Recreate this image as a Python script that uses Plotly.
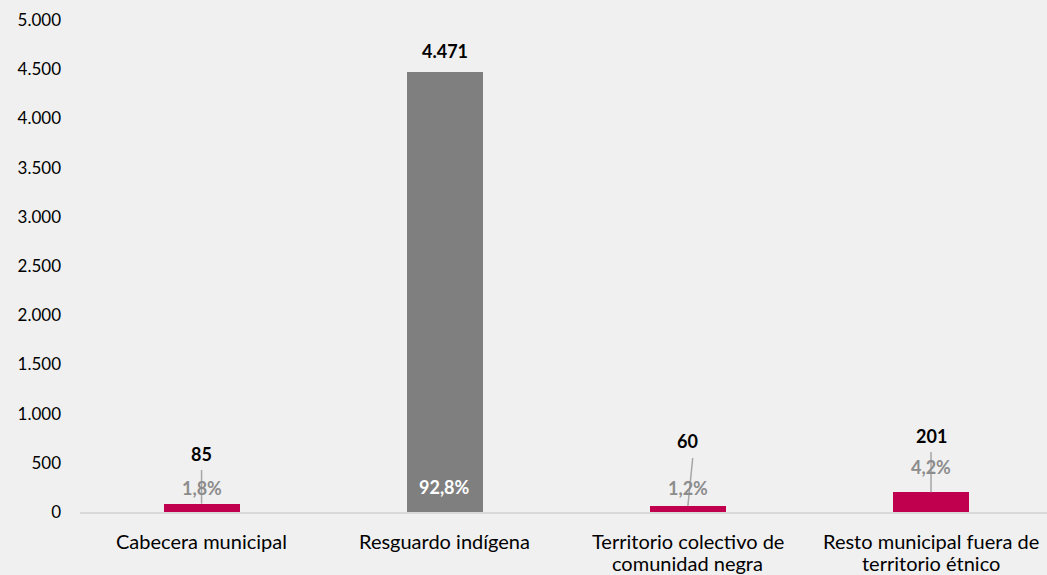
import plotly.graph_objects as go

categories = [
    "Cabecera municipal",
    "Resguardo indígena",
    "Territorio colectivo de<br>comunidad negra",
    "Resto municipal fuera de<br>territorio étnico",
]
values = [85, 4471, 60, 201]
shares = ["1,8%", "92,8%", "1,2%", "4,2%"]
bar_colors = ["#C0004F", "#7F7F7F", "#C0004F", "#C0004F"]
y_ticks = [0, 500, 1000, 1500, 2000, 2500, 3000, 3500, 4000, 4500, 5000]

# Manually placed label layout (value-label lift, share-label height, leader top)
value_lift = [505, 215, 660, 570]
share_y = [244, None, 244, 457]
leader_top = [427, None, 549, 610]
leader_dx = [0, 0, 0.02, 0]

FONT = "Lato, Carlito, sans-serif"

fig = go.Figure()
fig.add_trace(go.Bar(
    x=list(range(len(categories))),
    y=values,
    width=0.313,
    marker=dict(color=bar_colors, line=dict(width=0)),
    hoverinfo="skip",
))

annotations = []
shapes = []
for i, v in enumerate(values):
    annotations.append(dict(
        x=i, y=v + value_lift[i], text=f"<b>{v:,}</b>".replace(",", "."),
        showarrow=False, font=dict(size=18, color="#000000"),
        xanchor="center", yanchor="middle",
    ))
    if share_y[i] is None:
        annotations.append(dict(
            x=i, y=0, yshift=25, text=f"<b>{shares[i]}</b>", showarrow=False,
            font=dict(size=18, color="#FFFFFF"), xanchor="center", yanchor="middle",
        ))
    else:
        shapes.append(dict(
            type="line", xref="x", yref="y",
            x0=i, y0=v, x1=i + leader_dx[i], y1=leader_top[i],
            line=dict(color="#A6A6A6", width=1.5),
        ))
        annotations.append(dict(
            x=i, y=share_y[i], text=f"<b>{shares[i]}</b>", showarrow=False,
            font=dict(size=18, color="#8C8C8C"), xanchor="center", yanchor="middle",
        ))

# Category labels, one annotation per line for tighter line spacing
for i, cat in enumerate(categories):
    for k, line in enumerate(cat.split("<br>")):
        annotations.append(dict(
            x=i, y=0, xref="x", yref="y", yshift=-29 - 22 * k,
            text=line, showarrow=False,
            font=dict(size=20, color="#000000"),
            xanchor="center", yanchor="middle",
        ))

fig.update_layout(
    width=1047, height=575,
    margin=dict(l=80, r=0, t=20, b=63),
    paper_bgcolor="#F0F0F0", plot_bgcolor="#F0F0F0",
    separators=",.",
    font=dict(family=FONT, size=18, color="#000000"),
    showlegend=False,
    bargap=0,
    annotations=annotations,
    shapes=shapes,
    xaxis=dict(
        tickmode="array", tickvals=list(range(len(categories))),
        showticklabels=False,
        range=[-0.5, 3.477], showgrid=False, zeroline=False,
        showline=True, linecolor="#D9D9D9", linewidth=2,
        ticks="", fixedrange=True,
    ),
    yaxis=dict(
        range=[0, 5000], tickmode="array", tickvals=y_ticks, tickformat=",d",
        showgrid=False, zeroline=False, showline=False,
        ticks="", ticklabelstandoff=18, fixedrange=True,
        tickfont=dict(size=17, color="#000000"),
    ),
)

fig.write_html("out.html")
